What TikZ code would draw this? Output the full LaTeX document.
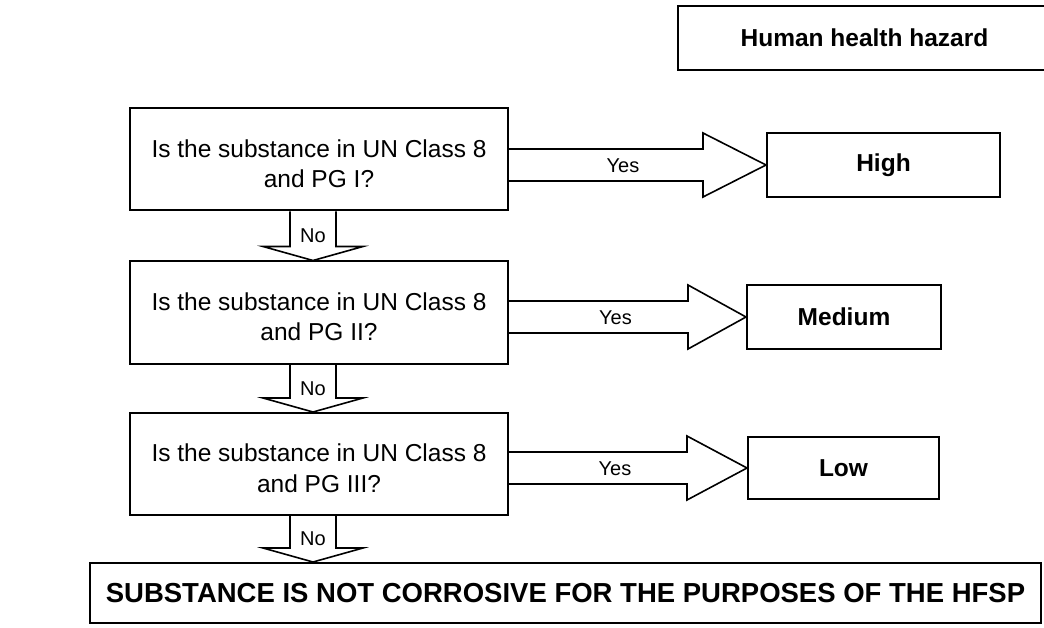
\documentclass[tikz,border=0pt]{standalone}
\usepackage{fontspec}
\setmainfont{Liberation Sans}
\usetikzlibrary{calc}

% extra height on the first line of a question so the text sits a little low
\newcommand{\firstline}{\rule{0pt}{26.5pt}}

% hollow horizontal "Yes" arrow from a question box to its result box
% #1 source node, #2 target node, #3 head length
\newcommand{\yesarrow}[3]{%
  \coordinate (ys) at (#1.east |- #2.west);
  \coordinate (yh) at ($(#2.west)+(-#3,0)$);
  \draw[blockarrow] ($(ys)+(0,-16)$) -- ($(yh)+(0,-16)$) -- ($(yh)+(0,-32)$)
    -- (#2.west) -- ($(yh)+(0,32)$) -- ($(yh)+(0,16)$) -- ($(ys)+(0,16)$);
  \node[armlabel] at ($(ys)!0.5!(yh)+(17,1)$) {Yes};
}

% hollow downward "No" arrow between two stacked boxes
% #1 source node, #2 target node
\newcommand{\noarrow}[2]{%
  \coordinate (ns) at ($(#1.south)+(-6,0)$);
  \coordinate (nt) at (ns |- #2.north);
  \draw[blockarrow] ($(ns)+(-23,0)$) -- ($(nt)+(-23,-14)$) -- ($(nt)+(-50,-14)$)
    -- (nt) -- ($(nt)+(50,-14)$) -- ($(nt)+(23,-14)$) -- ($(ns)+(23,0)$);
  \node[armlabel] at ($(ns)!0.5!(nt)$) {No};
}

\begin{document}
\begin{tikzpicture}[x=1pt,y=-1pt,
  box/.style={draw,line width=2pt,inner sep=0pt,align=center},
  question/.style={box,minimum width=378pt,minimum height=102pt,
    font=\fontsize{24.5}{30.5}\selectfont},
  result/.style={box,minimum height=64pt,font=\fontsize{24.5}{29}\selectfont\bfseries},
  blockarrow/.style={draw,line width=1.6pt,line join=miter},
  armlabel/.style={font=\fontsize{20}{24}\selectfont,inner sep=0pt}
]
\clip (0,0) rectangle (1044,628);

% header
\node[result,minimum width=373pt] (hh) at (864.5,38) {Human health hazard};

% questions
\node[question] (q1) at (319,159.5) {\firstline Is the substance in UN Class 8\\and PG I?};
\node[question] (q2) at (319,312.5) {\firstline Is the substance in UN Class 8\\and PG II?};
\node[question] (q3) at (319,464) {\firstline Is the substance in UN Class 8\\and PG III?};

% outcomes
\node[result,minimum width=233pt] (high) at (883.5,165) {High};
\node[result,minimum width=194pt] (medium) at (844,317) {Medium};
\node[result,minimum width=191pt,minimum height=62pt] (low) at (843.5,468) {Low};

\node[box,minimum width=951pt,minimum height=60pt,
  font=\fontsize{27.5}{32}\selectfont\bfseries] (final) at (565.5,593)
  {SUBSTANCE IS NOT CORROSIVE FOR THE PURPOSES OF THE HFSP};

% connectors
\yesarrow{q1}{high}{63}
\yesarrow{q2}{medium}{58}
\yesarrow{q3}{low}{60}

\noarrow{q1}{q2}
\noarrow{q2}{q3}
\noarrow{q3}{final}
\end{tikzpicture}
\end{document}
